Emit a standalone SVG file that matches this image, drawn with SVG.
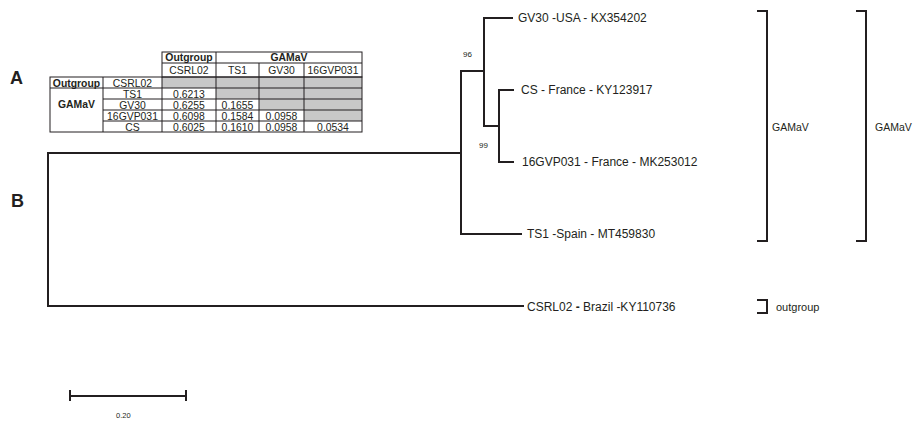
<svg xmlns="http://www.w3.org/2000/svg" width="919" height="426" viewBox="0 0 919 426">
<style>
.t{font-family:"Liberation Sans",Arial,sans-serif;fill:#231f20}
.tip{font-size:12px}
.tb{font-size:10.4px;text-anchor:middle}
.b{font-weight:bold}
.br{fill:none;stroke:#231f20;stroke-width:2}
.grid{fill:none;stroke:#231f20;stroke-width:1}
.gray{fill:#c8c8c8}
.edge{fill:none;stroke:#231f20;stroke-width:2;stroke-linecap:square}
</style>
<rect width="919" height="426" fill="#fff"/>
<text class="t b" x="10" y="84" font-size="18">A</text>
<text class="t b" x="11" y="207" font-size="18">B</text>

<g id="table">
<rect class="gray" x="162" y="77" width="200" height="11"/>
<rect class="gray" x="216" y="88" width="146" height="11"/>
<rect class="gray" x="259" y="99" width="103" height="11"/>
<rect class="gray" x="304" y="110" width="58" height="11"/>
<rect class="grid" x="162" y="52" width="200" height="25"/>
<rect class="grid" x="50" y="77" width="312" height="55"/>
<path class="grid" d="M162 63H362M216 52V132M259 63V132M304 63V132M103 77V132M162 77V132M50 88H362M103 99H362M103 110H362M103 121H362"/>
<text class="t tb b" x="189" y="61">Outgroup</text>
<text class="t tb b" x="289" y="61">GAMaV</text>
<text class="t tb" x="189" y="74">CSRL02</text>
<text class="t tb" x="237.5" y="74">TS1</text>
<text class="t tb" x="281.5" y="74">GV30</text>
<text class="t tb" x="333" y="74">16GVP031</text>
<text class="t tb b" x="76.5" y="86.5">Outgroup</text>
<text class="t tb b" x="76.5" y="108">GAMaV</text>
<text class="t tb" x="132.5" y="86.5">CSRL02</text>
<text class="t tb" x="132.5" y="97.5">TS1</text>
<text class="t tb" x="132.5" y="108.5">GV30</text>
<text class="t tb" x="132.5" y="119.5">16GVP031</text>
<text class="t tb" x="132.5" y="130.5">CS</text>
<text class="t tb" x="189" y="97.5">0.6213</text>
<text class="t tb" x="189" y="108.5">0.6255</text>
<text class="t tb" x="189" y="119.5">0.6098</text>
<text class="t tb" x="189" y="130.5">0.6025</text>
<text class="t tb" x="237.5" y="108.5">0.1655</text>
<text class="t tb" x="237.5" y="119.5">0.1584</text>
<text class="t tb" x="237.5" y="130.5">0.1610</text>
<text class="t tb" x="281.5" y="119.5">0.0958</text>
<text class="t tb" x="281.5" y="130.5">0.0958</text>
<text class="t tb" x="333" y="130.5">0.0534</text>
</g>

<g id="connectors">
<path class="edge" d="M461 153H48V306H523"/>
<path class="edge" d="M484 71H461V234H521"/>
<path class="edge" d="M512 18H484V126H499"/>
<path class="edge" d="M513 90H499V162H513"/>
</g>

<g id="n-gv30"><text class="t tip" x="518" y="22">GV30 -USA - KX354202</text></g>
<g id="n-cs"><text class="t tip" x="521" y="94">CS - France - KY123917</text></g>
<g id="n-16gvp031"><text class="t tip" x="522" y="166">16GVP031 - France - MK253012</text></g>
<g id="n-ts1"><text class="t tip" x="527" y="238">TS1 -Spain - MT459830</text></g>
<g id="n-csrl02"><text class="t tip" x="527" y="311">CSRL02 <tspan font-weight="bold">-</tspan> Brazil -KY110736</text></g>
<g id="bootstrap">
<text class="t" x="463" y="57" font-size="8">96</text>
<text class="t" x="479" y="148" font-size="8">99</text>
</g>

<g id="bracket-gamav-1">
<path class="br" d="M757 11H767V241H757"/>
<text class="t" x="772" y="131" font-size="10.5">GAMaV</text>
</g>
<g id="bracket-gamav-2">
<path class="br" d="M856 11H866V241H856"/>
<text class="t" x="875" y="131" font-size="10.5">GAMaV</text>
</g>
<g id="bracket-outgroup">
<path class="br" d="M757 300H767V313H757"/>
<text class="t" x="776" y="311" font-size="11">outgroup</text>
</g>

<g id="scale">
<path class="edge" d="M70 396H186M70 391V400M186 391V400" stroke-linecap="butt"/>
<text class="t" x="116" y="418" font-size="7.5">0.20</text>
</g>
</svg>
